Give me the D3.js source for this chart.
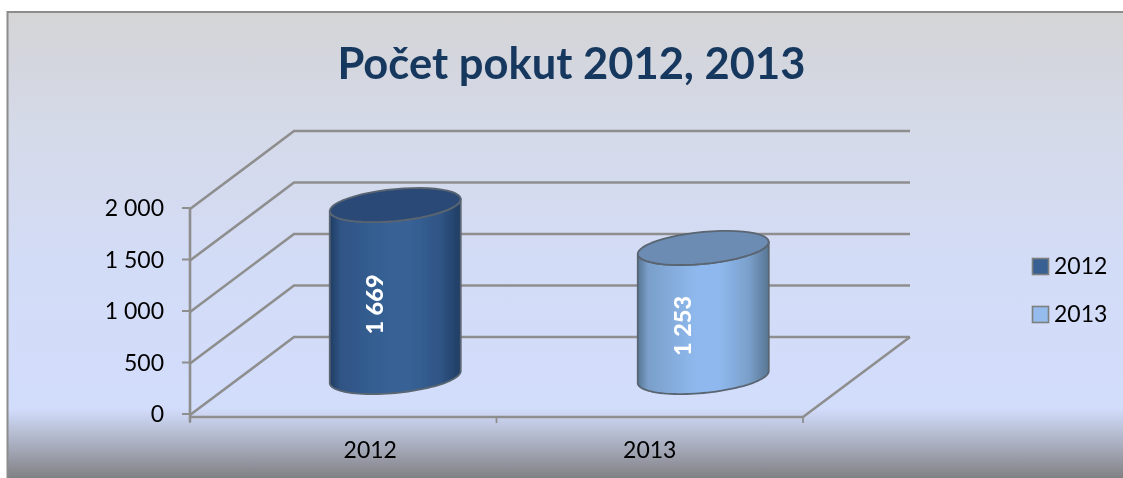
<!DOCTYPE html>
<html><head><meta charset="utf-8">
<script src="https://cdn.jsdelivr.net/npm/d3@7/dist/d3.min.js"></script>
<style>html,body{margin:0;padding:0;background:#fff}svg{display:block}text{font-family:Lato,"Open Sans",sans-serif}</style>
</head><body><svg id="c" width="1123" height="478"></svg>
<script>
const categories = ["2012", "2013"];
const values = [1669, 1253];
const valueLabels = ["1 669", "1 253"];
const yTicks = [0, 500, 1000, 1500, 2000];
const yTickLabels = ["0", "500", "1 000", "1 500", "2 000"];
const titleText = "Počet pokut 2012, 2013";
const palette = [
  {edge:"#1f3d63", side:"#2f5484", mid:"#376296", top:"#2b4a76"},
  {edge:"#587694", side:"#7a9fca", mid:"#8fb9ee", top:"#6c8cb3"}
];
const legendFill = ["#376092", "#95bcec"];
const categoryLabelShift = [27, 0];

const W=1123,H=478;
const svg=d3.select("#c");
const defs=svg.append("defs");
defs.append("filter").attr("id","soft").attr("x",0).attr("y",0)
  .attr("filterUnits","userSpaceOnUse").attr("width",W).attr("height",H)
  .append("feGaussianBlur").attr("stdDeviation",0.5);
const root=svg.append("g").attr("filter","url(#soft)");

const bg=defs.append("linearGradient").attr("id","bg").attr("gradientUnits","userSpaceOnUse").attr("x1",0).attr("x2",0).attr("y1",12).attr("y2",478);
[[12,"#d5d5d5"],[60,"#d4d6de"],[130,"#d5dae9"],[260,"#d3dcf6"],[408,"#d2ddfc"],[414,"#ccd6f3"],[445,"#a9aebf"],[478,"#808184"]]
 .forEach(s=>bg.append("stop").attr("offset",(s[0]-12)/466).attr("stop-color",s[1]));
root.append("rect").attr("x",7).attr("y",12).attr("width",W-7).attr("height",H-12).attr("fill","url(#bg)");
root.append("path").attr("fill","none").attr("stroke","#8c8c8c").attr("stroke-width",2).attr("d",d3.line()([[7.5,H],[7.5,12],[W,12]]));

const frontY=d3.scaleLinear().domain([0,2000]).range([415,209]);
const depth={dx:104,dy:-78};
const x=d3.scaleBand().domain(categories).range([190,803]);
const grid="#8e8e8e";

const gridG=root.append("g").attr("fill","none").attr("stroke",grid).attr("stroke-width",2.6);
yTicks.forEach(t=>{
  const y=frontY(t);
  gridG.append("path").attr("d",d3.line()([[190,y],[190+depth.dx,y+depth.dy],[910,y+depth.dy]]));
  gridG.append("path").attr("stroke-width",2).attr("d",d3.line()([[182,y-1],[190,y-1]]));
});
gridG.append("path").attr("d",d3.line()([[190,frontY(2000)],[190,frontY(0)+7]]));
gridG.append("path").attr("d",d3.line()([[190,frontY(0)+2],[803,frontY(0)+2],[910,frontY(0)+depth.dy]]));
[190,x("2013"),803].forEach(v=>gridG.append("path").attr("stroke-width",1.8).attr("d",d3.line()([[v,frontY(0)+2],[v,frontY(0)+8]])));

root.append("g").attr("font-size",23).attr("fill","#000").attr("text-anchor","end")
 .selectAll("text").data(yTicks).join("text")
 .attr("x",164).attr("y",d=>frontY(d)+7).text((d,i)=>yTickLabels[i]);
root.append("g").attr("font-size",23).attr("fill","#000").attr("text-anchor","middle")
 .selectAll("text").data(categories).join("text")
 .attr("x",(d,i)=>x(d)+x.bandwidth()/2+categoryLabelShift[i]).attr("y",458).text(d=>d);

const rx=65.5, ry=16, shear=-6;
const pt=(cx,cy,a)=>[cx+rx*Math.cos(a), cy+ry*Math.sin(a)+shear*Math.cos(a)];
const arc=(cx,cy,a0,a1)=>d3.range(0,49).map(i=>pt(cx,cy,a0+(a1-a0)*i/48));
const line=d3.line();

categories.forEach((c,i)=>{
  const p=palette[i];
  const g=defs.append("linearGradient").attr("id","cyl"+i);
  [[0,p.edge],[0.08,p.side],[0.45,p.mid],[0.62,p.mid],[0.85,p.side],[1,p.edge]]
    .forEach(s=>g.append("stop").attr("offset",s[0]).attr("stop-color",s[1]));
  const cx=x(c)+x.bandwidth()/2+depth.dx/2+i*1.5;
  const base=frontY(0)-38, top=base-(frontY(0)-frontY(values[i]));
  const body=arc(cx,base,0,Math.PI).concat(arc(cx,top,Math.PI,0));
  const gg=root.append("g").attr("stroke","#5a6572").attr("stroke-width",1.8).attr("stroke-linejoin","round");
  gg.append("path").attr("d",line(body)+"Z").attr("fill",`url(#cyl${i})`);
  gg.append("path").attr("d",line(arc(cx,top,0,2*Math.PI))+"Z").attr("fill",p.top);
  root.append("text").attr("transform",`translate(${cx-20},${(base+top)/2+13.5}) rotate(-90)`)
    .attr("text-anchor","middle").attr("fill","#fff").attr("font-weight",900).attr("font-size",23.5).attr("dy","0.35em").text(valueLabels[i]);
});

root.append("text").attr("x",571.5).attr("y",79).attr("text-anchor","middle").attr("font-size",43.5).attr("font-weight",700).attr("fill","#17375e").text(titleText);

categories.forEach((c,i)=>{
  const y=258.5+i*48;
  root.append("rect").attr("x",1032.5).attr("y",y).attr("width",16).attr("height",16).attr("fill",legendFill[i]).attr("stroke","#7f7f7f").attr("stroke-width",1.6);
  root.append("text").attr("x",1054).attr("y",y+15).attr("font-size",23).attr("fill","#000").text(c);
});
</script></body></html>
